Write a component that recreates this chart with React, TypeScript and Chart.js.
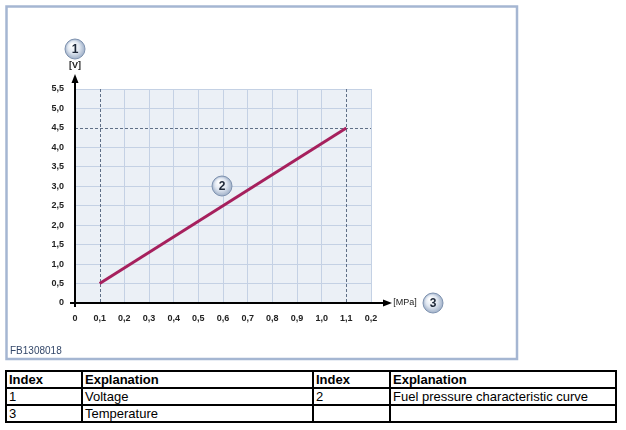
import React, { useEffect, useRef } from "react";
import { Chart, registerables } from "chart.js";

Chart.register(...registerables);

// Data: fuel pressure characteristic curve
const pressureMPa = [0.1, 1.1];
const voltageV = [0.5, 4.5];

// Axis ticks (as printed in the reference, including its "0,2" end label)
const xTickValues = [0, 0.1, 0.2, 0.3, 0.4, 0.5, 0.6, 0.7, 0.8, 0.9, 1.0, 1.1, 1.2];
const xTickLabels = ["0", "0,1", "0,2", "0,3", "0,4", "0,5", "0,6", "0,7", "0,8", "0,9", "1,0", "1,1", "0,2"];
const yTickValues = [0, 0.5, 1.0, 1.5, 2.0, 2.5, 3.0, 3.5, 4.0, 4.5, 5.0, 5.5];
const yTickLabels = ["0", "0,5", "1,0", "1,5", "2,0", "2,5", "3,0", "3,5", "4,0", "4,5", "5,0", "5,5"];

// Reference (dashed) lines
const dashedX = [0.1, 1.1];
const dashedY = [4.5];

// Legend table
const tableHeader = ["Index", "Explanation", "Index", "Explanation"];
const tableRows = [
  ["1", "Voltage", "2", "Fuel pressure characteristic curve"],
  ["3", "Temperature", "", ""],
];

const near = (a: number, list: number[]) => list.some((v) => Math.abs(v - a) < 1e-6);

function drawBadge(ctx: CanvasRenderingContext2D, x: number, y: number, text: string) {
  const r = 10;
  ctx.save();
  const g = ctx.createRadialGradient(x - 3, y - 4, 1, x, y, r);
  g.addColorStop(0, "#ffffff");
  g.addColorStop(0.55, "#dfe6f0");
  g.addColorStop(1, "#9fb0c8");
  ctx.beginPath();
  ctx.arc(x, y, r, 0, Math.PI * 2);
  ctx.fillStyle = g;
  ctx.fill();
  ctx.lineWidth = 1;
  ctx.strokeStyle = "#7f93b0";
  ctx.stroke();
  ctx.fillStyle = "#1c2636";
  ctx.font = "bold 12px 'Liberation Sans', Arial, sans-serif";
  ctx.textAlign = "center";
  ctx.textBaseline = "middle";
  ctx.fillText(text, x, y + 0.5);
  ctx.restore();
}

const decorPlugin = {
  id: "decor",
  beforeDraw(chart: any) {
    const { ctx, chartArea: a } = chart;
    ctx.save();
    ctx.fillStyle = "#ffffff";
    ctx.fillRect(0, 0, chart.width, chart.height);
    // outer frame
    ctx.strokeStyle = "#a5b6d2";
    ctx.lineWidth = 2.5;
    ctx.strokeRect(6.5, 6.5, 510.5, 352.5);
    // plot background
    ctx.fillStyle = "#ebf0f6";
    ctx.fillRect(a.left, a.top, a.right - a.left, a.bottom - a.top);
    // figure code
    ctx.fillStyle = "#34486a";
    ctx.font = "10px 'Liberation Sans', Arial, sans-serif";
    ctx.textBaseline = "middle";
    ctx.textAlign = "left";
    ctx.fillText("FB1308018", 10, 351);
    ctx.restore();
  },
  beforeDatasetsDraw(chart: any) {
    const { ctx, chartArea: a, scales } = chart;
    ctx.save();
    ctx.strokeStyle = "#5f6f86";
    ctx.lineWidth = 1;
    ctx.setLineDash([3, 2]);
    dashedX.forEach((v) => {
      const px = Math.round(scales.x.getPixelForValue(v)) + 0.5;
      ctx.beginPath();
      ctx.moveTo(px, a.top);
      ctx.lineTo(px, a.bottom);
      ctx.stroke();
    });
    dashedY.forEach((v) => {
      const py = Math.round(scales.y.getPixelForValue(v)) + 0.5;
      ctx.beginPath();
      ctx.moveTo(a.left, py);
      ctx.lineTo(a.right, py);
      ctx.stroke();
    });
    ctx.restore();
  },
  afterDraw(chart: any) {
    const { ctx, scales } = chart;
    const x0 = scales.x.getPixelForValue(0);
    const y0 = scales.y.getPixelForValue(0);
    ctx.save();
    ctx.strokeStyle = "#000000";
    ctx.fillStyle = "#000000";
    ctx.lineWidth = 2;
    // x axis with arrow
    const xTip = 392;
    ctx.beginPath();
    ctx.moveTo(x0 - 5, y0);
    ctx.lineTo(xTip - 6, y0);
    ctx.stroke();
    ctx.beginPath();
    ctx.moveTo(xTip, y0);
    ctx.lineTo(xTip - 9, y0 - 3.5);
    ctx.lineTo(xTip - 9, y0 + 3.5);
    ctx.closePath();
    ctx.fill();
    // y axis with arrow
    const yTip = 74;
    ctx.beginPath();
    ctx.moveTo(x0, y0 + 4);
    ctx.lineTo(x0, yTip + 6);
    ctx.stroke();
    ctx.beginPath();
    ctx.moveTo(x0, yTip);
    ctx.lineTo(x0 - 3.5, yTip + 9);
    ctx.lineTo(x0 + 3.5, yTip + 9);
    ctx.closePath();
    ctx.fill();
    // unit labels
    ctx.fillStyle = "#222222";
    ctx.font = "bold 9px 'Liberation Sans', Arial, sans-serif";
    ctx.textAlign = "center";
    ctx.textBaseline = "middle";
    ctx.fillText("[V]", x0, 66);
    ctx.font = "9px 'Liberation Sans', Arial, sans-serif";
    ctx.fillText("[MPa]", 405, y0);
    ctx.restore();
    drawBadge(ctx, x0, 49, "1");
    drawBadge(ctx, 433, y0, "3");
    drawBadge(ctx, 222, 186, "2");
  },
};

function ChartCanvas() {
  const ref = useRef<HTMLCanvasElement | null>(null);
  useEffect(() => {
    if (!ref.current) return;
    const chart = new Chart(ref.current, {
      type: "line",
      data: {
        datasets: [
          {
            label: "Fuel pressure characteristic curve",
            data: pressureMPa.map((p, i) => ({ x: p, y: voltageV[i] })),
            borderColor: "#a6205d",
            borderWidth: 3,
            pointRadius: 0,
            borderCapStyle: "butt",
            fill: false,
            tension: 0,
          },
        ],
      },
      options: {
        animation: false,
        responsive: false,
        maintainAspectRatio: false,
        devicePixelRatio: 1,
        layout: { padding: { left: 0, top: 89, right: 255, bottom: 29 } },
        plugins: {
          legend: { display: false },
          tooltip: { enabled: false },
        },
        scales: {
          x: {
            type: "linear",
            min: 0,
            max: 1.2,
            afterBuildTicks: (s: any) => {
              s.ticks = xTickValues.map((v) => ({ value: v }));
            },
            afterFit: (s: any) => {
              s.height = 30;
            },
            ticks: {
              autoSkip: false,
              maxRotation: 0,
              padding: 10,
              color: "#222222",
              font: { family: "'Liberation Sans', Arial, sans-serif", size: 9, weight: "bold" },
              callback: (_v: any, i: number) => xTickLabels[i],
            },
            grid: {
              drawTicks: false,
              lineWidth: 1,
              color: (c: any) =>
                c.tick && (near(c.tick.value, dashedX) || c.tick.value === 0) ? "rgba(0,0,0,0)" : "#c4d1e4",
            },
            border: { display: false },
          },
          y: {
            type: "linear",
            min: 0,
            max: 5.5,
            afterBuildTicks: (s: any) => {
              s.ticks = yTickValues.map((v) => ({ value: v }));
            },
            afterFit: (s: any) => {
              s.width = 75;
            },
            ticks: {
              autoSkip: false,
              padding: 11,
              color: "#222222",
              font: { family: "'Liberation Sans', Arial, sans-serif", size: 9, weight: "bold" },
              callback: (_v: any, i: number) => yTickLabels[i],
            },
            grid: {
              drawTicks: false,
              lineWidth: 1,
              color: (c: any) =>
                c.tick && (near(c.tick.value, dashedY) || c.tick.value === 0) ? "rgba(0,0,0,0)" : "#c4d1e4",
            },
            border: { display: false },
          },
        },
      },
      plugins: [decorPlugin],
    } as any);
    return () => chart.destroy();
  }, []);
  return <canvas ref={ref} width={626} height={362} style={{ display: "block", width: 626, height: 362 }} />;
}

export default function App() {
  const cell: React.CSSProperties = {
    border: "2px solid #000",
    padding: "0 2px",
    height: 15,
    lineHeight: "15px",
    verticalAlign: "middle",
    whiteSpace: "nowrap",
    overflow: "hidden",
  };
  const widths = [76, 231, 77, 226];
  return (
    <div
      style={{
        position: "absolute",
        left: 0,
        top: 0,
        width: 626,
        height: 430,
        background: "#fff",
        overflow: "hidden",
        fontFamily: "'Liberation Sans', Arial, sans-serif",
      }}
    >
      <ChartCanvas />
      <table
        style={{
          position: "absolute",
          left: 5,
          top: 370,
          width: 612,
          borderCollapse: "collapse",
          tableLayout: "fixed",
          fontSize: 13,
          color: "#000",
        }}
      >
        <colgroup>
          {widths.map((w, i) => (
            <col key={i} style={{ width: w }} />
          ))}
        </colgroup>
        <tbody>
          <tr>
            {tableHeader.map((h, i) => (
              <td key={i} style={{ ...cell, fontWeight: "bold" }}>
                {h}
              </td>
            ))}
          </tr>
          {tableRows.map((r, ri) => (
            <tr key={ri}>
              {r.map((c, ci) => (
                <td key={ci} style={cell}>
                  {c}
                </td>
              ))}
            </tr>
          ))}
        </tbody>
      </table>
    </div>
  );
}
